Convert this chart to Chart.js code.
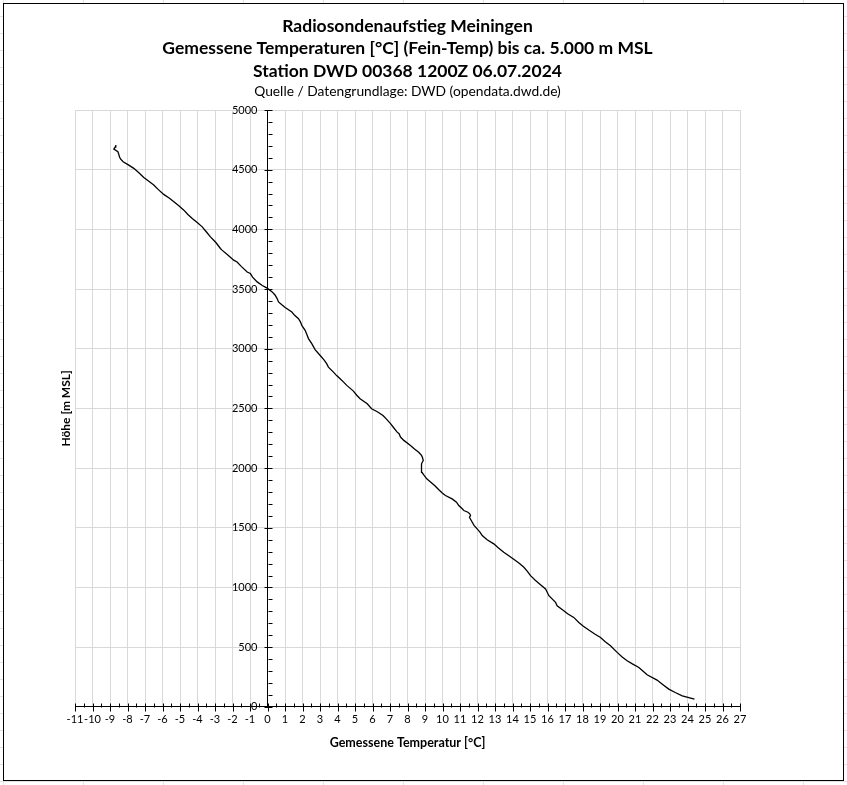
<!DOCTYPE html>
<html>
<head>
<meta charset="utf-8">
<script src="https://cdn.jsdelivr.net/npm/chart.js@4.4.1/dist/chart.umd.min.js"></script>
<style>
  html, body { margin: 0; padding: 0; }
  body {
    width: 847px; height: 785px; overflow: hidden; position: relative;
    background-color: #fff;
    background-image:
      repeating-linear-gradient(to right, transparent 0 3px, #e3e3e3 3px 4px, transparent 4px 80px),
      repeating-linear-gradient(to bottom, transparent 0 16px, #e3e3e3 16px 17px, transparent 17px 17px);
  }
  #frame {
    position: absolute; left: 3px; top: 3px;
    width: 839px; height: 776px;
    border: 1px solid #000; background: #fff;
  }
  canvas { display: block; }
</style>
</head>
<body>
<div id="frame"><canvas id="sondeChart" width="839" height="776"></canvas></div>
<script>
// Hoehe [m MSL] und gemessene Temperatur [°C]
const hoehe = [65, 92, 120, 148, 185, 224, 268, 300, 330, 360, 386, 420, 456, 512, 545, 581, 610, 643, 675, 707,
    749, 780, 805, 847, 875, 931, 987, 1023, 1060, 1099, 1135, 1169, 1200, 1225, 1260, 1294, 1330, 1365, 1400, 1435,
    1462, 1491, 1520, 1546, 1588, 1602, 1617, 1630, 1644, 1659, 1686, 1714, 1742, 1770, 1790, 1818, 1854, 1880, 1910, 1938,
    1965, 1994, 2036, 2064, 2090, 2106, 2133, 2160, 2190, 2232, 2260, 2288, 2301, 2340, 2372, 2410, 2441, 2470, 2497, 2539,
    2581, 2610, 2645, 2693, 2720, 2749, 2775, 2804, 2846, 2875, 2903, 2945, 2992, 3043, 3085, 3120, 3154, 3196, 3225, 3252,
    3280, 3308, 3345, 3370, 3392, 3420, 3448, 3476, 3495, 3508, 3530, 3560, 3600, 3630, 3643, 3690, 3727, 3742, 3790, 3826,
    3840, 3890, 3937, 3980, 4021, 4055, 4091, 4125, 4161, 4195, 4231, 4260, 4293, 4335, 4372, 4405, 4435, 4475, 4511, 4540,
    4566, 4590, 4608, 4630, 4650, 4673, 4690, 4706];
const temperatur = [24.4, 23.7, 23.3, 22.93, 22.6, 22.26, 21.69, 21.45, 21.22, 20.85, 20.55, 20.25, 19.98, 19.6, 19.3, 19.03, 18.7, 18.36, 18.05, 17.79,
    17.5, 17.15, 16.93, 16.55, 16.46, 16.08, 15.89, 15.6, 15.3, 15.03, 14.85, 14.65, 14.4, 14.17, 13.85, 13.5, 13.2, 12.93, 12.55, 12.27,
    12.15, 11.98, 11.8, 11.7, 11.54, 11.6, 11.56, 11.45, 11.22, 11.13, 10.93, 10.8, 10.55, 10.17, 10.0, 9.79, 9.55, 9.35, 9.1, 8.95,
    8.82, 8.8, 8.8, 8.9, 8.85, 8.8, 8.64, 8.4, 8.17, 7.79, 7.6, 7.52, 7.41, 7.2, 7.03, 6.8, 6.6, 6.3, 5.95, 5.7,
    5.29, 5.1, 4.91, 4.53, 4.35, 4.15, 3.95, 3.77, 3.48, 3.38, 3.25, 3.0, 2.72, 2.53, 2.34, 2.25, 2.15, 1.96, 1.88, 1.77,
    1.55, 1.39, 1.01, 0.8, 0.63, 0.55, 0.44, 0.27, 0.1, -0.02, -0.3, -0.59, -0.85, -0.98, -1.16, -1.5, -1.74, -1.93, -2.3, -2.6,
    -2.69, -2.95, -3.26, -3.5, -3.73, -4.0, -4.3, -4.55, -4.78, -5.05, -5.35, -5.6, -5.93, -6.25, -6.5, -6.8, -7.07, -7.35, -7.64, -7.95,
    -8.25, -8.4, -8.46, -8.5, -8.55, -8.78, -8.7, -8.67];

const titelZeilen = [
    'Radiosondenaufstieg Meiningen',
    'Gemessene Temperaturen [°C] (Fein-Temp) bis ca. 5.000 m MSL',
    'Station DWD 00368 1200Z 06.07.2024'
];
const quelle = 'Quelle / Datengrundlage: DWD (opendata.dwd.de)';
const xTitel = 'Gemessene Temperatur [°C]';
const yTitel = 'Höhe [m MSL]';

const xMin = -11, xMax = 27;
const yMin = 0, yMax = 5000;

const FONT = 'Lato';

// Achsenstriche, Beschriftung der Hoehenachse an der 0-Grad-Linie und Achsentitel links
const achsenDeko = {
    id: 'achsenDeko',
    afterDraw(chart) {
        const ctx = chart.ctx;
        const xs = chart.scales.x, ys = chart.scales.y;
        const x0 = Math.round(xs.getPixelForValue(0)) + 0.5;
        const y0 = Math.round(ys.getPixelForValue(0)) + 0.5;
        ctx.save();
        ctx.strokeStyle = '#000';
        ctx.lineWidth = 1;
        ctx.beginPath();
        for (let v = xMin; v <= xMax; v++) {
            const px = Math.round(xs.getPixelForValue(v)) + 0.5;
            ctx.moveTo(px, y0 - 4); ctx.lineTo(px, y0 + 4);
            if (v < xMax) {
                const pm = Math.round(xs.getPixelForValue(v + 0.5)) + 0.5;
                ctx.moveTo(pm, y0 - 4); ctx.lineTo(pm, y0);
            }
        }
        for (let v = yMin; v <= yMax; v += 100) {
            const py = Math.round(ys.getPixelForValue(v)) + 0.5;
            if (v % 500 === 0) {
                ctx.moveTo(x0 - 4, py); ctx.lineTo(x0 + 4, py);
            } else {
                ctx.moveTo(x0, py); ctx.lineTo(x0 + 4, py);
            }
        }
        ctx.stroke();

        ctx.fillStyle = '#000';
        ctx.font = '11px ' + FONT;
        ctx.textAlign = 'right';
        ctx.textBaseline = 'middle';
        ys.ticks.forEach(t => {
            ctx.fillText(String(t.value), x0 - 11, ys.getPixelForValue(t.value));
        });

        const area = chart.chartArea;
        ctx.translate(62, (area.top + area.bottom) / 2);
        ctx.rotate(-Math.PI / 2);
        ctx.font = 'bold 12px ' + FONT;
        ctx.textAlign = 'center';
        ctx.fillText(yTitel, 0, 0);
        ctx.restore();
    }
};

const ctx = document.getElementById('sondeChart');

const sondeChart = new Chart(ctx, {
    type: 'scatter',
    data: {
        datasets: [{
            label: 'Temperatur',
            data: temperatur.map((t, i) => ({ x: t, y: hoehe[i] })),
            showLine: true,
            borderColor: '#000',
            borderWidth: 1.3,
            pointRadius: 0,
            tension: 0
        }]
    },
    options: {
        responsive: false,
        animation: false,
        devicePixelRatio: 1,
        layout: {
            padding: { left: 71, right: 103, top: 0, bottom: 25.8 }
        },
        plugins: {
            legend: { display: false },
            tooltip: { enabled: false },
            title: {
                display: true,
                text: titelZeilen,
                color: '#000',
                font: { family: FONT, size: 17.5, weight: 'bold', lineHeight: '22.5px' },
                padding: { top: 10.75, bottom: 0 }
            },
            subtitle: {
                display: true,
                text: quelle,
                color: '#000',
                font: { family: FONT, size: 13.8, lineHeight: 1.2 },
                padding: { top: 1, bottom: 10.2 }
            }
        },
        scales: {
            x: {
                type: 'linear',
                position: 'bottom',
                min: xMin,
                max: xMax,
                grid: { color: '#d9d9d9', drawTicks: false },
                border: { display: true, color: '#000', width: 1 },
                ticks: {
                    stepSize: 1,
                    autoSkip: false,
                    maxRotation: 0,
                    padding: 6.3,
                    color: '#000',
                    font: { family: FONT, size: 11 },
                    callback: v => String(v)
                },
                title: {
                    display: true,
                    text: xTitel,
                    color: '#000',
                    font: { family: FONT, size: 12.5, weight: 'bold' },
                    padding: { top: 2.6, bottom: 4 }
                }
            },
            y: {
                type: 'linear',
                position: { x: 0 },
                min: yMin,
                max: yMax,
                grid: { color: '#d9d9d9', drawTicks: false },
                border: { display: true, color: '#000', width: 1 },
                ticks: {
                    stepSize: 500,
                    display: false
                }
            }
        }
    },
    plugins: [achsenDeko]
});
</script>
</body>
</html>
